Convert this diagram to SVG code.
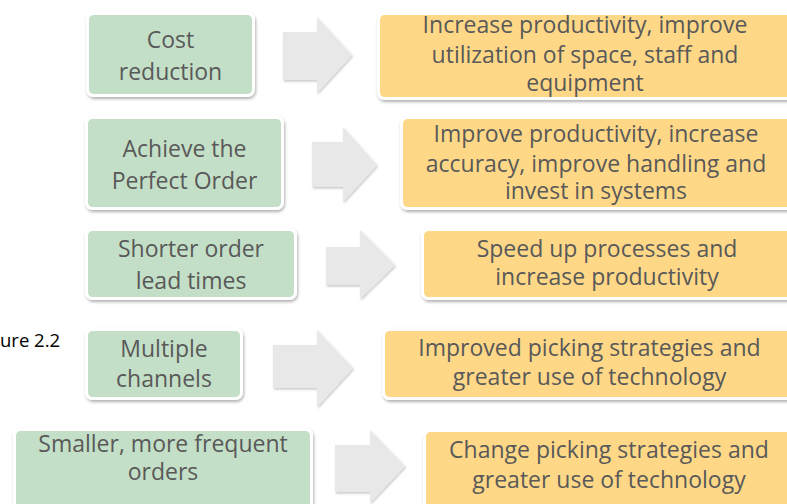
<svg xmlns="http://www.w3.org/2000/svg" width="787" height="504" viewBox="0 0 787 504">
<defs>
<filter id="sh" x="-10%" y="-10%" width="120%" height="130%">
<feDropShadow dx="1" dy="2" stdDeviation="1.5" flood-color="#000" flood-opacity="0.3"/>
</filter>
<filter id="ash" x="-10%" y="-10%" width="130%" height="130%">
<feDropShadow dx="1" dy="1.5" stdDeviation="1.2" flood-color="#000" flood-opacity="0.22"/>
</filter>
</defs>
<style>
.g{fill:#C4DFC7;stroke:#fff;stroke-width:3;filter:url(#sh)}
.o{fill:#FED887;stroke:#fff;stroke-width:3;filter:url(#sh)}
.a{fill:#E8E8E8;filter:url(#ash)}
text{font-family:"Open Sans","Liberation Sans",sans-serif;fill:#595959;text-anchor:middle;font-size:23px}
.cap{fill:#000;text-anchor:start;font-size:18.5px}
</style>
<rect width="787" height="504" fill="#fff"/>
<text class="cap" x="0" y="347">ure 2.2</text>
<g id="n1">
<rect class="g" x="87.5" y="13.5" width="166" height="82" rx="6"/>
<text x="170.5" y="48">Cost</text>
<text x="170.5" y="80">reduction</text>
</g>
<g id="r1">
<rect class="o" x="378.5" y="13.5" width="420" height="85" rx="6"/>
<text x="585" y="33">Increase productivity, improve</text>
<text x="585" y="63">utilization of space, staff and</text>
<text x="585" y="91">equipment</text>
</g>
<g id="n2">
<rect class="g" x="86.5" y="117.5" width="196" height="91" rx="6"/>
<text x="184.5" y="157">Achieve the</text>
<text x="184.5" y="189">Perfect Order</text>
</g>
<g id="r2">
<rect class="o" x="401.5" y="117.5" width="400" height="91" rx="6"/>
<text x="596" y="142">Improve productivity, increase</text>
<text x="596" y="172">accuracy, improve handling and</text>
<text x="596" y="199">invest in systems</text>
</g>
<g id="n3">
<rect class="g" x="86.5" y="229.5" width="209" height="69" rx="6"/>
<text x="191" y="257">Shorter order</text>
<text x="191" y="289">lead times</text>
</g>
<g id="r3">
<rect class="o" x="422.5" y="229.5" width="380" height="69" rx="6"/>
<text x="607" y="257">Speed up processes and</text>
<text x="607" y="285">increase productivity</text>
</g>
<g id="n4">
<rect class="g" x="86.5" y="329.5" width="155" height="69" rx="6"/>
<text x="164" y="357">Multiple</text>
<text x="164" y="387">channels</text>
</g>
<g id="r4">
<rect class="o" x="383.5" y="329.5" width="420" height="69" rx="6"/>
<text x="589.5" y="356">Improved picking strategies and</text>
<text x="589.5" y="385">greater use of technology</text>
</g>
<g id="n5">
<rect class="g" x="14.5" y="429.5" width="297" height="80" rx="6"/>
<text x="163" y="452">Smaller, more frequent</text>
<text x="163" y="480">orders</text>
</g>
<g id="r5">
<rect class="o" x="424.5" y="430.5" width="380" height="80" rx="6"/>
<text x="609" y="458">Change picking strategies and</text>
<text x="609" y="488">greater use of technology</text>
</g>
<g id="connectors">
<polygon class="a" points="283,32 317,32 317,17 352,55 317,93 317,80 283,80"/>
<polygon class="a" points="312,142 343,142 343,127 377,165 343,202 343,187 312,187"/>
<polygon class="a" points="326,247 360,247 360,230 395,265 360,299 360,285 326,285"/>
<polygon class="a" points="273,345 317,345 317,330 353,368 317,407 317,388 273,388"/>
<polygon class="a" points="335,445 370,445 370,430 405,466 370,503 370,492 335,492"/>
</g>
</svg>
